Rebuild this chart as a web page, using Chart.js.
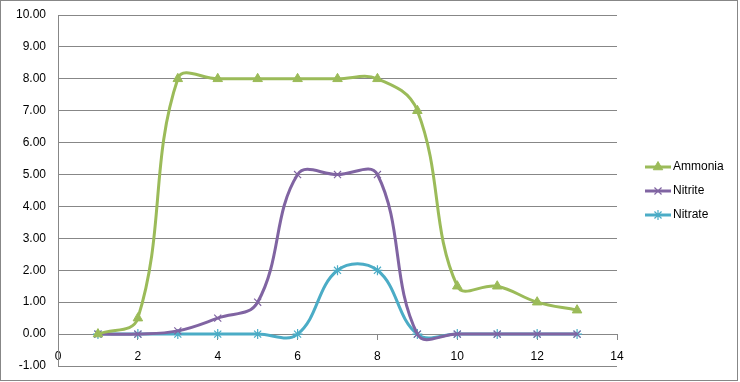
<!DOCTYPE html>
<html><head><meta charset="utf-8">
<script src="https://cdn.jsdelivr.net/npm/chart.js@4.4.0/dist/chart.umd.min.js"></script>
<style>html,body{margin:0;padding:0;background:#fff;}canvas{display:block;}</style>
</head><body>
<canvas id="c" width="740" height="382"></canvas>
<script>
const days = [1,2,3,4,5,6,7,8,9,10,11,12,13];
const ammonia = [0,0.5,8,8,8,8,8,8,7,1.5,1.5,1.0,0.75];
const nitrite = [0,0,0.1,0.5,1.0,5,5,5,0,0,0,0,0];
const nitrate = [0,0,0,0,0,0,2,2,0,0,0,0,0];
const seriesNames = ['Ammonia','Nitrite','Nitrate'];
const xTicks = [0,2,4,6,8,10,12,14];
const yTicks = [-1,0,1,2,3,4,5,6,7,8,9,10];

const GRID = '#878787';
const FONT = {family:'"Liberation Sans", Arial, sans-serif', size:12};

function pts(vals){ return days.map((d,i)=>({x:d, y:vals[i]})); }

const colors = ['#9BBB59','#8064A2','#4BACC6'];
const styles = ['triangle','crossRot','star'];
const radii = [5.5,5,5];
const values = [ammonia, nitrite, nitrate];

const datasets = seriesNames.map((n,i)=>({
  label:n, data:pts(values[i]),
  borderColor:colors[i], backgroundColor:colors[i],
  pointBackgroundColor:colors[i], pointBorderColor:colors[i],
  borderWidth:3, pointStyle:styles[i], pointRadius:radii[i],
  pointBorderWidth: i===0?1:1.2,
  tension:0.4, cubicInterpolationMode:'default', fill:false
}));

const legendPlugin = {
  id:'sideLegend',
  afterDraw(chart){
    const ctx = chart.ctx, a = chart.chartArea;
    const x0 = a.right + 28, gap = 24, mid = (a.top + a.bottom)/2;
    const n = chart.data.datasets.length;
    chart.data.datasets.forEach((ds,i)=>{
      const y = Math.round(mid + (i-(n-1)/2)*gap);
      ctx.save();
      ctx.strokeStyle = ds.borderColor; ctx.lineWidth = 3;
      ctx.beginPath(); ctx.moveTo(x0, y); ctx.lineTo(x0+26, y); ctx.stroke();
      ctx.fillStyle = ds.pointBackgroundColor; ctx.strokeStyle = ds.pointBorderColor;
      ctx.lineWidth = ds.pointBorderWidth;
      Chart.helpers.drawPoint(ctx,{pointStyle:ds.pointStyle, radius:ds.pointRadius, rotation:0, borderWidth:ds.pointBorderWidth}, x0+13, y);
      ctx.fillStyle = '#000'; ctx.font = '12px "Liberation Sans", Arial, sans-serif';
      ctx.textBaseline = 'middle'; ctx.textAlign = 'left';
      ctx.fillText(ds.label, x0+28, y);
      ctx.restore();
    });
  }
};
const borderPlugin = {
  id:'outerBorder',
  afterDraw(chart){
    const ctx = chart.ctx;
    ctx.save(); ctx.strokeStyle = GRID; ctx.lineWidth = 1;
    ctx.strokeRect(0.5,0.5,737,380); ctx.restore();
  }
};

new Chart(document.getElementById('c'),{
  type:'line',
  data:{datasets},
  plugins:[legendPlugin,borderPlugin],
  options:{
    responsive:false, animation:false,
    layout:{padding:{left:4,top:15,right:123,bottom:16}},
    plugins:{legend:{display:false}, tooltip:{enabled:false}},
    scales:{
      x:{
        type:'linear', min:0, max:14, position:{y:0},
        afterBuildTicks(s){ s.ticks = xTicks.map(v=>({value:v})); },
        afterFit(s){ s.height = 0; s.paddingTop = 0; s.paddingBottom = 0; },
        grid:{drawOnChartArea:false, drawTicks:true, tickLength:5, color:GRID},
        border:{display:true, color:GRID},
        ticks:{font:FONT, color:'#000', padding:10, maxRotation:0, autoSkip:false}
      },
      y:{
        type:'linear', min:-1, max:10,
        afterBuildTicks(s){ s.ticks = yTicks.map(v=>({value:v})); },
        afterFit(s){ s.paddingTop = 0; s.paddingBottom = 0; },
        grid:{color:GRID, drawTicks:false},
        border:{display:true, color:GRID},
        ticks:{font:FONT, color:'#000', padding:12, callback:v=>Number(v).toFixed(2)}
      }
    }
  }
});
</script>
</body></html>
